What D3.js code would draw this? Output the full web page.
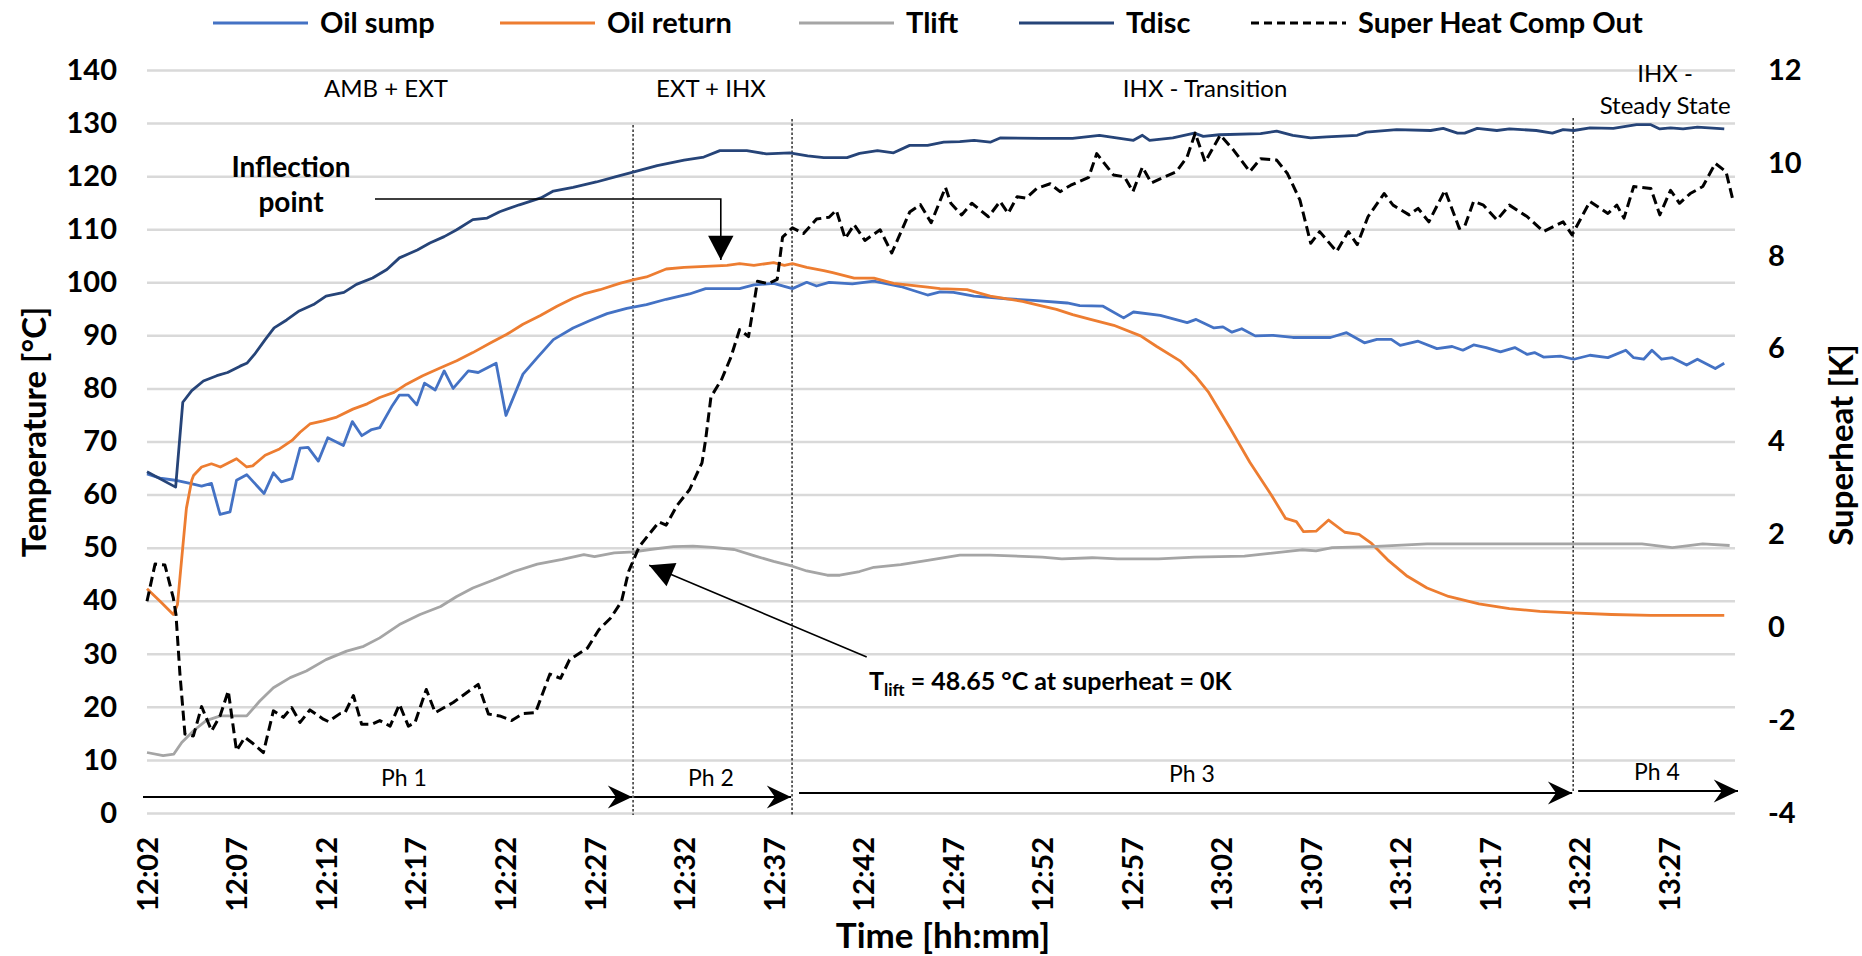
<!DOCTYPE html>
<html>
<head>
<meta charset="utf-8">
<script src="https://cdn.jsdelivr.net/npm/d3@7"></script>
<style>
  body { margin: 0; background: #fff; }
  svg text { font-family: Lato, "Open Sans", sans-serif; fill: #000; }
</style>
</head>
<body>
<svg id="chart" width="1862" height="956"></svg>
<script>
// x values are minutes after 12:02
const timeLabels = ["12:02","12:07","12:12","12:17","12:22","12:27","12:32","12:37","12:42",
  "12:47","12:52","12:57","13:02","13:07","13:12","13:17","13:22","13:27"];
const tempTicks = [0,10,20,30,40,50,60,70,80,90,100,110,120,130,140];
const shTicks = [-4,-2,0,2,4,6,8,10,12];

const phaseNames = ["Ph 1","Ph 2","Ph 3","Ph 4"];
const phaseBounds = [0, 27.15, 36.03, 79.66, 88.8];

const oilSump = [[0,63.9],[0.73,63.1],[1.56,62.7],[2.4,62.1],[3.05,61.6],[3.6,62.1],[4.08,56.25],[4.64,56.75],
  [5.0,62.7],[5.57,63.75],[6.54,60.2],[7.06,64.1],[7.5,62.4],[8.1,63],[8.55,68.75],[9.0,68.9],[9.57,66.3],
  [10.1,70.7],[10.97,69.25],[11.47,73.75],[12.0,71.1],[12.55,72.25],[13.0,72.6],[13.7,76.75],[14.1,78.75],
  [14.6,78.75],[15.07,76.9],[15.5,81],[16.1,79.7],[16.6,83.3],[17.1,80],[17.95,83.3],[18.5,83],[19.5,84.75],
  [20.05,74.9],[21.0,82.7],[21.8,85.8],[22.7,89.2],[23.8,91.4],[24.75,92.8],[25.7,94.1],[26.8,95.1],[27.9,95.8],
  [29.0,96.8],[30.3,97.8],[31.2,98.8],[32.4,98.8],[33.1,98.8],[33.9,99.5],[35.0,99.8],[36.05,98.8],[36.85,100],
  [37.4,99.3],[38.1,100],[39.4,99.7],[40.6,100.2],[42.1,99.2],[43.6,97.6],[44.3,98.2],[45.05,98.1],[46.2,97.4],
  [48.0,96.9],[49.5,96.6],[51.4,96.1],[52.1,95.6],[53.4,95.5],[54.55,93.3],[55.1,94.4],[56.6,93.75],[58.1,92.4],
  [58.6,93],[59.6,91.4],[60.1,91.6],[60.6,90.6],[61.15,91.25],[61.9,89.9],[62.9,90],[64.0,89.6],[66.1,89.6],
  [67.0,90.5],[68.0,88.6],[68.7,89.25],[69.5,89.25],[70.0,88.1],[71.0,88.9],[72.05,87.5],[72.9,87.9],[73.5,87.2],
  [74.1,88.2],[74.8,87.7],[75.6,86.9],[76.4,87.7],[77.1,86.4],[77.5,86.75],[78.0,85.9],[78.95,86.1],[79.7,85.5],
  [80.6,86.25],[81.6,85.8],[82.6,87.2],[83.04,85.8],[83.6,85.5],[84.06,87.2],[84.6,85.5],[85.2,85.8],[86.0,84.4],
  [86.6,85.5],[87.6,83.75],[88.1,84.75]];

const oilReturn = [[0,42.25],[0.73,39.9],[1.47,37.4],[1.7,39.25],[1.94,48],[2.2,57.4],[2.5,62.7],[2.6,63.6],
  [3.05,65.2],[3.6,65.8],[4.1,65.2],[5.0,66.75],[5.57,65.2],[5.9,65.4],[6.6,67.4],[7.4,68.6],[8.1,70.2],
  [8.55,71.75],[9.1,73.3],[9.85,73.9],[10.6,74.6],[11.5,76.1],[12.3,77.1],[13.0,78.3],[13.8,79.25],[14.5,80.8],
  [15.4,82.4],[16.4,83.9],[17.3,85.2],[18.2,86.75],[19.2,88.6],[20.1,90.2],[21.0,92.1],[21.95,93.7],[22.9,95.5],
  [23.8,97.0],[24.4,97.8],[25.3,98.6],[26.4,99.8],[27.2,100.5],[27.9,101],[29.0,102.5],[30.0,102.8],[31.2,103],
  [32.4,103.2],[33.1,103.5],[33.9,103.2],[35.0,103.7],[35.6,103.2],[36.05,103.5],[36.85,102.8],[37.8,102.2],
  [38.3,101.8],[39.5,100.8],[40.6,100.8],[41.7,99.8],[43.6,99.1],[44.3,98.8],[45.8,98.6],[47.1,97.4],[48.9,96.4],
  [49.9,95.6],[50.8,94.9],[51.7,93.9],[52.7,93],[54.0,91.9],[55.5,89.9],[56.4,87.9],[57.7,85.2],[58.6,82.2],
  [59.3,79.25],[60.5,72.5],[61.6,66.1],[62.8,59.9],[63.6,55.5],[64.2,54.9],[64.6,53],[65.3,53.1],[66.0,55.2],
  [66.9,52.9],[67.7,52.5],[68.4,50.8],[69.3,47.7],[70.4,44.6],[71.5,42.4],[72.7,40.8],[74.4,39.4],[76.1,38.5],
  [77.8,38],[79.6,37.7],[81.8,37.4],[84.0,37.25],[88.1,37.25]];

const tLift = [[0,11.4],[0.9,10.8],[1.5,11.1],[1.94,13.3],[2.6,15.5],[3.3,17.4],[4.1,18.3],[5.57,18.3],[6.3,21.1],
  [7.06,23.6],[8.0,25.5],[8.9,26.75],[10.0,28.9],[11.15,30.5],[12.1,31.4],[13.0,33],[14.1,35.5],[15.25,37.4],
  [16.4,38.9],[17.3,40.8],[18.2,42.4],[19.35,43.9],[20.5,45.5],[21.8,46.9],[23.2,47.8],[24.4,48.7],[25.0,48.3],
  [26.1,49],[27.2,49.2],[28.1,49.65],[29.4,50.2],[30.5,50.3],[31.6,50.05],[32.8,49.65],[33.9,48.5],[35.0,47.4],
  [36.05,46.5],[36.85,45.6],[38.0,44.8],[38.7,44.8],[39.8,45.5],[40.6,46.3],[42.1,46.8],[43.6,47.6],[45.4,48.6],
  [47.1,48.6],[50.0,48.2],[51.1,47.9],[52.8,48.1],[54.2,47.9],[56.5,47.9],[58.5,48.2],[61.3,48.4],[62.7,48.9],
  [64.5,49.6],[65.3,49.4],[66.2,50],[68.4,50.2],[71.5,50.7],[75.5,50.7],[79.6,50.7],[83.5,50.7],[85.2,50],
  [86.9,50.7],[88.4,50.4]];

const tDisc = [[0,64.3],[1.6,61.4],[2.0,77.4],[2.5,79.6],[3.15,81.4],[3.9,82.4],[4.5,83],[5.2,84.2],[5.6,84.8],
  [6.0,86.4],[6.6,89.2],[7.1,91.4],[7.8,92.9],[8.5,94.6],[9.3,95.8],[10.0,97.4],[11.0,98.1],[11.7,99.6],
  [12.6,100.8],[13.4,102.4],[14.1,104.6],[15.1,106.1],[15.8,107.4],[16.6,108.6],[17.3,109.9],[18.2,111.8],
  [19.0,112.1],[19.7,113.3],[20.8,114.6],[22.0,115.9],[22.7,117.2],[23.8,117.9],[25.1,118.9],[26.2,119.9],
  [27.2,120.8],[28.5,122],[30.0,123],[31.1,123.6],[32.0,124.8],[33.5,124.8],[34.6,124.2],[35.9,124.4],
  [36.9,123.8],[37.8,123.5],[39.1,123.5],[39.8,124.3],[40.8,124.8],[41.7,124.4],[42.6,125.8],[43.6,125.8],
  [44.5,126.4],[45.4,126.5],[46.2,126.75],[47.1,126.4],[47.65,127.2],[49.9,127.1],[51.7,127.1],[53.2,127.7],
  [55.1,126.75],[55.6,127.7],[56.0,126.75],[57.3,127.2],[58.5,128.1],[59.0,127.5],[59.9,127.8],[62.2,128],
  [63.1,128.5],[64.0,127.7],[65.0,127.2],[65.9,127.4],[67.6,127.7],[68.1,128.3],[69.8,128.75],[71.7,128.6],
  [72.4,129],[73.2,128.1],[73.6,128.1],[74.3,129],[75.4,128.6],[76.1,128.9],[77.6,128.6],[78.5,128.1],
  [79.1,128.75],[79.7,128.6],[80.6,129.1],[81.9,129],[83.2,129.7],[84.0,129.7],[84.5,128.9],[85.1,129.1],
  [85.8,128.9],[86.6,129.25],[88.1,128.9]];

// secondary axis, K
const superHeat = [[0,0.56],[0.45,1.36],[1.0,1.34],[1.47,0.63],[1.62,0.27],[1.84,-1.01],[2.12,-2.3],[2.59,-2.34],
  [3.05,-1.71],[3.61,-2.23],[4.08,-1.91],[4.54,-1.37],[5.0,-2.66],[5.47,-2.37],[5.94,-2.51],[6.5,-2.7],[7.06,-1.8],
  [7.62,-1.94],[8.08,-1.73],[8.55,-2.05],[9.1,-1.78],[9.85,-1.98],[10.13,-2.03],[10.78,-1.86],[11.06,-1.84],
  [11.53,-1.47],[11.99,-2.09],[12.55,-2.09],[13.0,-2.01],[13.58,-2.13],[14.1,-1.66],[14.6,-2.13],[14.97,-2.05],
  [15.6,-1.34],[16.1,-1.84],[17.1,-1.62],[18.5,-1.23],[19.07,-1.87],[19.7,-1.91],[20.37,-2.01],[21.0,-1.86],
  [21.7,-1.84],[22.5,-1.01],[23.1,-1.1],[23.6,-0.7],[24.6,-0.45],[25.25,-0.05],[25.9,0.2],[26.5,0.55],[26.9,1.2],
  [27.5,1.74],[28.6,2.27],[29.0,2.2],[29.6,2.62],[30.3,2.96],[31.0,3.54],[31.2,4.03],[31.5,4.96],[32.1,5.34],
  [32.6,5.8],[33.1,6.41],[33.6,6.26],[34.1,7.45],[34.7,7.4],[35.2,7.49],[35.5,8.4],[36.05,8.6],[36.67,8.48],
  [37.4,8.79],[38.1,8.83],[38.5,8.98],[39.0,8.37],[39.5,8.67],[40.1,8.33],[40.95,8.56],[41.6,8.06],[42.6,8.94],
  [43.2,9.1],[43.8,8.71],[44.6,9.47],[44.9,9.13],[45.5,8.88],[46.07,9.13],[47.0,8.84],[47.65,9.17],[48.1,8.91],
  [48.6,9.27],[49.1,9.24],[49.7,9.45],[50.45,9.55],[51.0,9.38],[51.6,9.52],[52.6,9.69],[53.05,10.2],[53.98,9.74],
  [54.6,9.7],[55.07,9.38],[55.6,9.91],[56.1,9.57],[56.8,9.69],[57.5,9.81],[58.1,10.13],[58.55,10.64],[59.1,10.02],
  [59.95,10.6],[60.7,10.27],[61.6,9.81],[62.2,10.09],[63.1,10.06],[63.7,9.77],[64.4,9.2],[65.0,8.27],[65.5,8.52],
  [66.45,8.09],[67.1,8.52],[67.6,8.24],[68.2,8.84],[69.1,9.34],[69.6,9.09],[70.5,8.88],[71.0,9.02],[71.6,8.73],
  [72.5,9.41],[73.3,8.59],[73.6,8.63],[74.1,9.17],[74.65,9.09],[75.4,8.77],[76.1,9.09],[77.1,8.84],[78.0,8.52],
  [79.1,8.73],[79.6,8.45],[80.6,9.17],[81.6,8.91],[82.1,9.09],[82.5,8.81],[83.04,9.49],[84.0,9.45],[84.5,8.88],
  [85.1,9.41],[85.6,9.13],[86.2,9.34],[86.9,9.49],[87.6,9.99],[88.2,9.81],[88.6,9.17]];

const series = [
  { name: "Oil sump", data: oilSump, color: "#4472C4", axis: "left" },
  { name: "Oil return", data: oilReturn, color: "#ED7D31", axis: "left" },
  { name: "Tlift", data: tLift, color: "#A5A5A5", axis: "left" },
  { name: "Tdisc", data: tDisc, color: "#264478", axis: "left" },
  { name: "Super Heat Comp Out", data: superHeat, color: "#000", axis: "right", dash: "10,5" }
];

const plot = { left: 147, right: 1735, top: 70, bottom: 813 };
const toMin = s => { const [h, m] = s.split(":").map(Number); return h * 60 + m - (12 * 60 + 2); };

const x = d3.scaleLinear().domain([0, 88.7]).range([plot.left, plot.right]);
const yT = d3.scaleLinear().domain([0, 140]).range([plot.bottom, plot.top]);
const yS = d3.scaleLinear().domain([-4, 12]).range([plot.bottom, plot.top]);

const svg = d3.select("#chart");
svg.append("rect").attr("width", 1862).attr("height", 956).attr("fill", "#fff");

const defs = svg.append("defs");
defs.append("marker").attr("id", "stealth")
  .attr("markerUnits", "userSpaceOnUse").attr("markerWidth", 30).attr("markerHeight", 30)
  .attr("viewBox", "-24 -12 26 24").attr("refX", 0).attr("refY", 0).attr("orient", "auto")
  .append("path").attr("d", "M0,0 L-21,-10 L-14,0 L-21,10 Z").attr("fill", "#000");
defs.append("marker").attr("id", "tri")
  .attr("markerUnits", "userSpaceOnUse").attr("markerWidth", 30).attr("markerHeight", 30)
  .attr("viewBox", "-24 -12 26 24").attr("refX", 0).attr("refY", 0).attr("orient", "auto")
  .append("path").attr("d", "M0,0 L-21,-11 L-21,11 Z").attr("fill", "#000");

// gridlines
svg.append("g").attr("transform", `translate(${plot.left},0)`)
  .call(d3.axisLeft(yT).tickValues(tempTicks).tickSize(-(plot.right - plot.left)).tickFormat(""))
  .call(g => g.select(".domain").remove())
  .call(g => g.selectAll("line").attr("stroke", "#d9d9d9").attr("stroke-width", 2.5));

// left axis labels
svg.append("g").attr("transform", `translate(${plot.left},0)`)
  .call(d3.axisLeft(yT).tickValues(tempTicks).tickSize(0).tickPadding(30))
  .call(g => g.select(".domain").remove())
  .call(g => g.selectAll("text").attr("font-family", "Lato").attr("font-weight", 700)
    .attr("font-size", 29).attr("fill", "#000"));

// right axis labels (plain hyphen for negatives, as in the original)
svg.append("g").attr("transform", `translate(${plot.right},0)`)
  .call(d3.axisRight(yS).tickValues(shTicks).tickSize(0).tickPadding(33).tickFormat(d => String(d)))
  .call(g => g.select(".domain").remove())
  .call(g => g.selectAll("text").attr("font-family", "Lato").attr("font-weight", 700)
    .attr("font-size", 29).attr("fill", "#000"));

// time axis labels, rotated
svg.append("g").attr("transform", `translate(0,${plot.bottom})`)
  .call(d3.axisBottom(x).tickValues(timeLabels.map(toMin)).tickSize(0)
    .tickFormat((d, i) => timeLabels[i]))
  .call(g => g.select(".domain").remove())
  .call(g => g.selectAll("text")
    .attr("font-family", "'Open Sans'").attr("font-weight", 700).attr("font-size", 29)
    .attr("fill", "#000").attr("text-anchor", "end")
    .attr("transform", "rotate(-90)").attr("x", -24).attr("y", 0).attr("dy", "0.36em"));

// phase separators
svg.append("g").selectAll("line")
  .data([[phaseBounds[1], 125, plot.bottom + 2], [phaseBounds[2], 119, plot.bottom + 2], [phaseBounds[3], 118, 792]])
  .join("line")
  .attr("x1", d => x(d[0])).attr("x2", d => x(d[0]))
  .attr("y1", d => d[1]).attr("y2", d => d[2])
  .attr("stroke", "#111").attr("stroke-width", 1.3).attr("stroke-dasharray", "2.5,2");

// data lines
const lineT = d3.line().x(d => x(d[0])).y(d => yT(d[1]));
const lineS = d3.line().x(d => x(d[0])).y(d => yS(d[1]));
svg.append("g").selectAll("path").data(series).join("path")
  .attr("d", s => (s.axis === "left" ? lineT : lineS)(s.data))
  .attr("fill", "none").attr("stroke", s => s.color)
  .attr("stroke-width", s => s.axis === "left" ? 2.8 : 3)
  .attr("stroke-dasharray", s => s.dash || null)
  .attr("stroke-linejoin", "round");

// phase arrows
const phaseY = [797, 797, 793, 791];
const phaseStart = [plot.left - 4, x(phaseBounds[1]) + 1, x(phaseBounds[2]) + 7, x(phaseBounds[3]) + 5];
const phaseLabelX = [404, 711, 1192, 1657];
const pg = svg.append("g");
phaseNames.forEach((name, i) => {
  const x2 = i < 3 ? x(phaseBounds[i + 1]) - 1 : 1738;
  pg.append("line").attr("x1", phaseStart[i]).attr("x2", x2)
    .attr("y1", phaseY[i]).attr("y2", phaseY[i])
    .attr("stroke", "#000").attr("stroke-width", 2).attr("marker-end", "url(#stealth)");
  pg.append("text").attr("x", phaseLabelX[i]).attr("y", phaseY[i] - 11)
    .attr("text-anchor", "middle").attr("font-size", 23).text(name);
});

// region labels
const regions = [
  { t: "AMB + EXT", m: 13.35, y: 97 },
  { t: "EXT + IHX", m: 31.5, y: 97 },
  { t: "IHX - Transition", m: 59.1, y: 97 },
  { t: "IHX -", m: 84.8, y: 82 },
  { t: "Steady State", m: 84.8, y: 114 }
];
svg.append("g").selectAll("text").data(regions).join("text")
  .attr("x", d => x(d.m)).attr("y", d => d.y).attr("text-anchor", "middle")
  .attr("font-size", 24).text(d => d.t);

// inflection point annotation
svg.append("text").attr("x", 291).attr("y", 177).attr("text-anchor", "middle")
  .attr("font-size", 28).attr("font-weight", 700).text("Inflection");
svg.append("text").attr("x", 291).attr("y", 212).attr("text-anchor", "middle")
  .attr("font-size", 28).attr("font-weight", 700).text("point");
svg.append("path")
  .attr("d", `M375,${yT(115.7)} H${x(32.05)} V${yT(104.2)}`)
  .attr("fill", "none").attr("stroke", "#000").attr("stroke-width", 1.6)
  .attr("marker-end", "url(#tri)");

// Tlift annotation
svg.append("line")
  .attr("x1", x(40.2)).attr("y1", yT(29.4)).attr("x2", x(28.05)).attr("y2", yT(46.7))
  .attr("stroke", "#000").attr("stroke-width", 1.6).attr("marker-end", "url(#tri)");
const note = svg.append("text").attr("x", 869).attr("y", 690).attr("font-size", 25).attr("font-weight", 700);
note.append("tspan").text("T");
note.append("tspan").attr("font-size", 17).attr("dy", 6).text("lift");
note.append("tspan").attr("dy", -6).text(" = 48.65 °C at superheat = 0K");

// axis titles
svg.append("text").attr("transform", "translate(46,432) rotate(-90)").attr("text-anchor", "middle")
  .attr("font-family", "'Open Sans'").attr("font-weight", 700).attr("font-size", 33)
  .text("Temperature [°C]");
svg.append("text").attr("transform", "translate(1853,445) rotate(-90)").attr("text-anchor", "middle")
  .attr("font-family", "'Open Sans'").attr("font-weight", 700).attr("font-size", 33)
  .text("Superheat [K]");
svg.append("text").attr("x", 943).attr("y", 948).attr("text-anchor", "middle")
  .attr("font-size", 35).attr("font-weight", 700).text("Time [hh:mm]");

// legend
const legendX = [213, 500, 799, 1019, 1251];
const lg = svg.append("g");
series.forEach((s, i) => {
  lg.append("line").attr("x1", legendX[i]).attr("x2", legendX[i] + 95).attr("y1", 23).attr("y2", 23)
    .attr("stroke", s.color).attr("stroke-width", 3).attr("stroke-dasharray", s.dash ? "8,5" : null);
  lg.append("text").attr("x", legendX[i] + 107).attr("y", 23).attr("dy", "0.35em")
    .attr("font-size", 29).attr("font-weight", 700).text(s.name);
});
</script>
</body>
</html>
